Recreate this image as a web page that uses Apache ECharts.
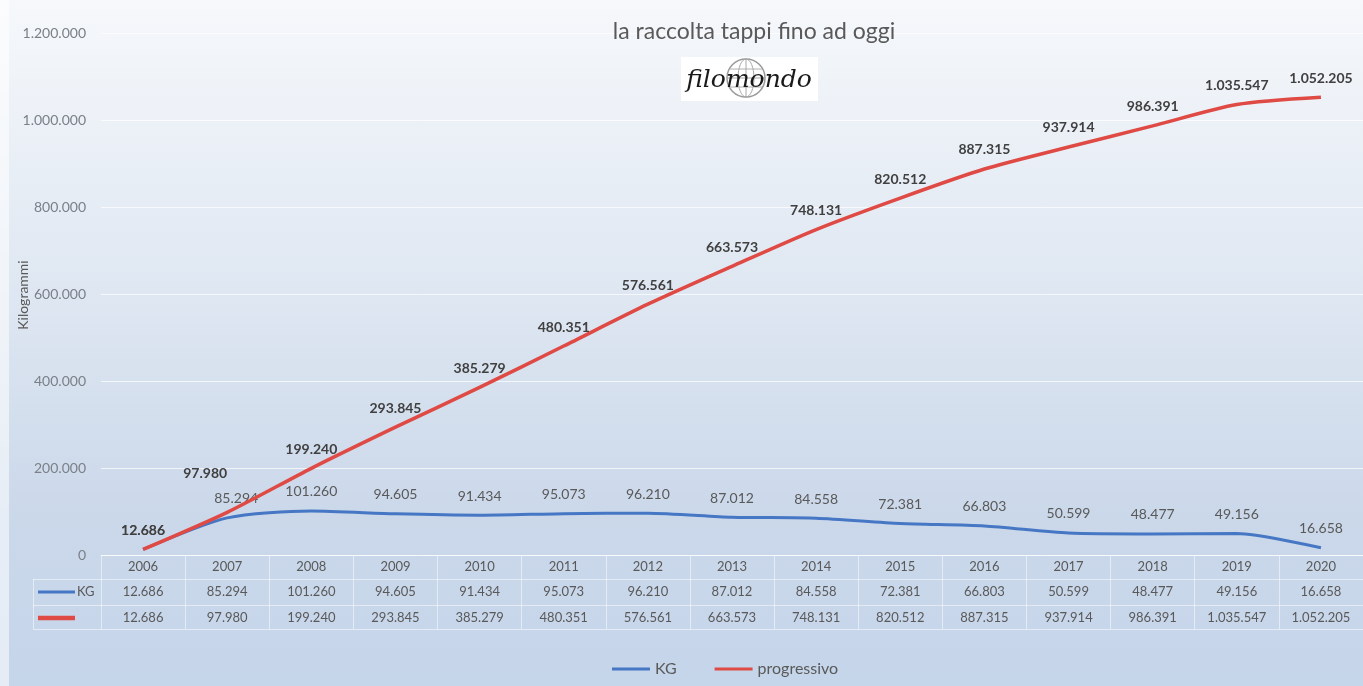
<!DOCTYPE html>
<html>
<head>
<meta charset="utf-8">
<script src="https://cdn.jsdelivr.net/npm/echarts@6/dist/echarts.min.js"></script>
<style>
html,body{margin:0;padding:0;}
#chart{width:1363px;height:686px;}
</style>
</head>
<body>
<div id="chart"></div>
<script>
const years = ['2006','2007','2008','2009','2010','2011','2012','2013','2014','2015','2016','2017','2018','2019','2020'];
const kg = [12686, 85294, 101260, 94605, 91434, 95073, 96210, 87012, 84558, 72381, 66803, 50599, 48477, 49156, 16658];
const progressivo = [12686, 97980, 199240, 293845, 385279, 480351, 576561, 663573, 748131, 820512, 887315, 937914, 986391, 1035547, 1052205];
const yTicks = [0, 200000, 400000, 600000, 800000, 1000000, 1200000];
const seriesNames = ['KG', 'progressivo'];
const titleText = 'la raccolta tappi fino ad oggi';
const yAxisName = 'Kilogrammi';

function fmt(v) {
  return String(Math.round(v)).replace(/\B(?=(\d{3})+(?!\d))/g, '.');
}

const blue = '#4677c4';
const red = '#df4a45';
const txt = '#595959';
const tableLine = 'rgba(255,255,255,0.5)';
const FONT = 'Lato, "Open Sans", sans-serif';

const chart = echarts.init(document.getElementById('chart'));

const option = {
  animation: false,
  backgroundColor: new echarts.graphic.LinearGradient(0, 0, 0, 1, [
    {offset: 0, color: '#f6f8fb'},
    {offset: 0.45, color: '#dde6f1'},
    {offset: 0.75, color: '#cbd8ea'},
    {offset: 1, color: '#c5d5ea'}
  ]),
  textStyle: {fontFamily: FONT},
  title: {
    text: titleText,
    left: 749, top: 15, textAlign: 'center',
    textStyle: {fontFamily: FONT, fontSize: 23, fontWeight: 'normal', color: txt}
  },
  legend: {
    data: seriesNames,
    left: 612, top: 661, padding: 0,
    icon: 'rect', itemWidth: 38, itemHeight: 3, itemGap: 38,
    textStyle: {fontFamily: FONT, fontSize: 16, color: txt}
  },
  grid: {left: 101, right: -6, top: 33, bottom: 131, containLabel: false},
  xAxis: [
    {
      type: 'category', data: years, position: 'bottom', boundaryGap: true,
      axisLine: {show: true, lineStyle: {color: tableLine, width: 1}},
      axisTick: {show: true, length: 74, inside: false, lineStyle: {color: tableLine}},
      axisLabel: {interval: 0, margin: 5, fontSize: 13, color: txt, fontFamily: FONT},
      splitLine: {show: false}
    },
    {
      type: 'category', data: years, position: 'bottom', offset: 24,
      axisLine: {show: true, lineStyle: {color: tableLine}},
      axisTick: {show: false},
      axisLabel: {interval: 0, margin: 6, fontSize: 13, color: txt, fontFamily: FONT,
        formatter: (v, i) => fmt(kg[i])}
    },
    {
      type: 'category', data: years, position: 'bottom', offset: 50,
      axisLine: {show: true, lineStyle: {color: tableLine}},
      axisTick: {show: false},
      axisLabel: {interval: 0, margin: 6, fontSize: 13, color: txt, fontFamily: FONT,
        formatter: (v, i) => fmt(progressivo[i])}
    },
    {
      type: 'category', data: years, position: 'bottom', offset: 74,
      axisLine: {show: true, lineStyle: {color: tableLine}},
      axisTick: {show: false},
      axisLabel: {show: false}
    }
  ],
  yAxis: {
    type: 'value', min: yTicks[0], max: yTicks[yTicks.length - 1], interval: yTicks[1] - yTicks[0],
    axisLine: {show: false}, axisTick: {show: false},
    axisLabel: {margin: 15, fontSize: 14, color: '#7a8088', fontFamily: FONT, formatter: v => fmt(v)},
    splitLine: {lineStyle: {color: 'rgba(255,255,255,0.7)', width: 1}}
  },
  series: [
    {
      name: seriesNames[0], type: 'line', data: kg, smooth: 0.25,
      symbol: 'circle', symbolSize: 0.1, showSymbol: true,
      lineStyle: {color: blue, width: 3}, itemStyle: {color: blue},
      label: {show: true, position: 'top', distance: 12, fontSize: 14, color: txt, fontFamily: FONT,
        formatter: p => fmt(p.value)},
      labelLayout: p => (p.dataIndex === 1 ? {dx: 9, dy: 0} : {}),
      z: 2
    },
    {
      name: seriesNames[1], type: 'line', data: progressivo, smooth: 0.25,
      symbol: 'circle', symbolSize: 0.1, showSymbol: true,
      lineStyle: {color: red, width: 3.5}, itemStyle: {color: red},
      label: {show: true, position: 'top', distance: 12, fontSize: 14, fontWeight: 'bold', color: '#404040', fontFamily: FONT,
        formatter: p => fmt(p.value)},
      labelLayout: p => (p.dataIndex === 1 ? {dx: -22, dy: -20} : {}),
      z: 3
    }
  ],
  graphic: [
    {type: 'rect', left: 0, top: 0, shape: {width: 9, height: 686}, style: {fill: 'rgba(255,255,255,0.55)'}, silent: true},
    {type: 'text', x: 23, y: 295, rotation: Math.PI / 2, style: {text: yAxisName, fontSize: 14, fill: txt, fontFamily: FONT, textAlign: 'center', textVerticalAlign: 'middle'}},
    // table left column lines
    {type: 'line', shape: {x1: 33, y1: 579.5, x2: 101, y2: 579.5}, style: {stroke: tableLine, lineWidth: 1}, silent: true},
    {type: 'line', shape: {x1: 33, y1: 605.5, x2: 101, y2: 605.5}, style: {stroke: tableLine, lineWidth: 1}, silent: true},
    {type: 'line', shape: {x1: 33, y1: 629.5, x2: 101, y2: 629.5}, style: {stroke: tableLine, lineWidth: 1}, silent: true},
    {type: 'line', shape: {x1: 33.5, y1: 579, x2: 33.5, y2: 629}, style: {stroke: tableLine, lineWidth: 1}, silent: true},
    // table legend keys
    {type: 'line', shape: {x1: 38, y1: 592, x2: 75, y2: 592}, style: {stroke: blue, lineWidth: 3}, silent: true},
    {type: 'text', x: 77, y: 592, style: {text: seriesNames[0], fontSize: 13, fill: txt, fontFamily: FONT, textVerticalAlign: 'middle'}},
    {type: 'line', shape: {x1: 38, y1: 618, x2: 75, y2: 618}, style: {stroke: red, lineWidth: 4.5}, silent: true},
    // logo
    {type: 'group', x: 681, y: 57, children: [
      {type: 'rect', shape: {x: 0, y: 0, width: 137, height: 44}, style: {fill: '#ffffff'}},
      {type: 'circle', shape: {cx: 65, cy: 21, r: 19}, style: {fill: 'rgba(0,0,0,0)', stroke: '#9a9a9a', lineWidth: 1.5}},
      {type: 'ellipse', shape: {cx: 65, cy: 21, rx: 8, ry: 19}, style: {fill: 'rgba(0,0,0,0)', stroke: '#a8a8a8', lineWidth: 1}},
      {type: 'line', shape: {x1: 46, y1: 21, x2: 84, y2: 21}, style: {stroke: '#a8a8a8', lineWidth: 1}},
      {type: 'line', shape: {x1: 49, y1: 12, x2: 81, y2: 12}, style: {stroke: '#b0b0b0', lineWidth: 1}},
      {type: 'line', shape: {x1: 49, y1: 30, x2: 81, y2: 30}, style: {stroke: '#b0b0b0', lineWidth: 1}},
      {type: 'line', shape: {x1: 65, y1: 2, x2: 65, y2: 40}, style: {stroke: '#a8a8a8', lineWidth: 1}},
      {type: 'text', x: 68, y: 23, style: {text: 'filomondo', fontSize: 25, fontStyle: 'italic', fontWeight: 'normal', fontFamily: '"DejaVu Serif", serif', fill: '#1a1a1a', textAlign: 'center', textVerticalAlign: 'middle'}}
    ]}
  ]
};
chart.setOption(option);
</script>
</body>
</html>
